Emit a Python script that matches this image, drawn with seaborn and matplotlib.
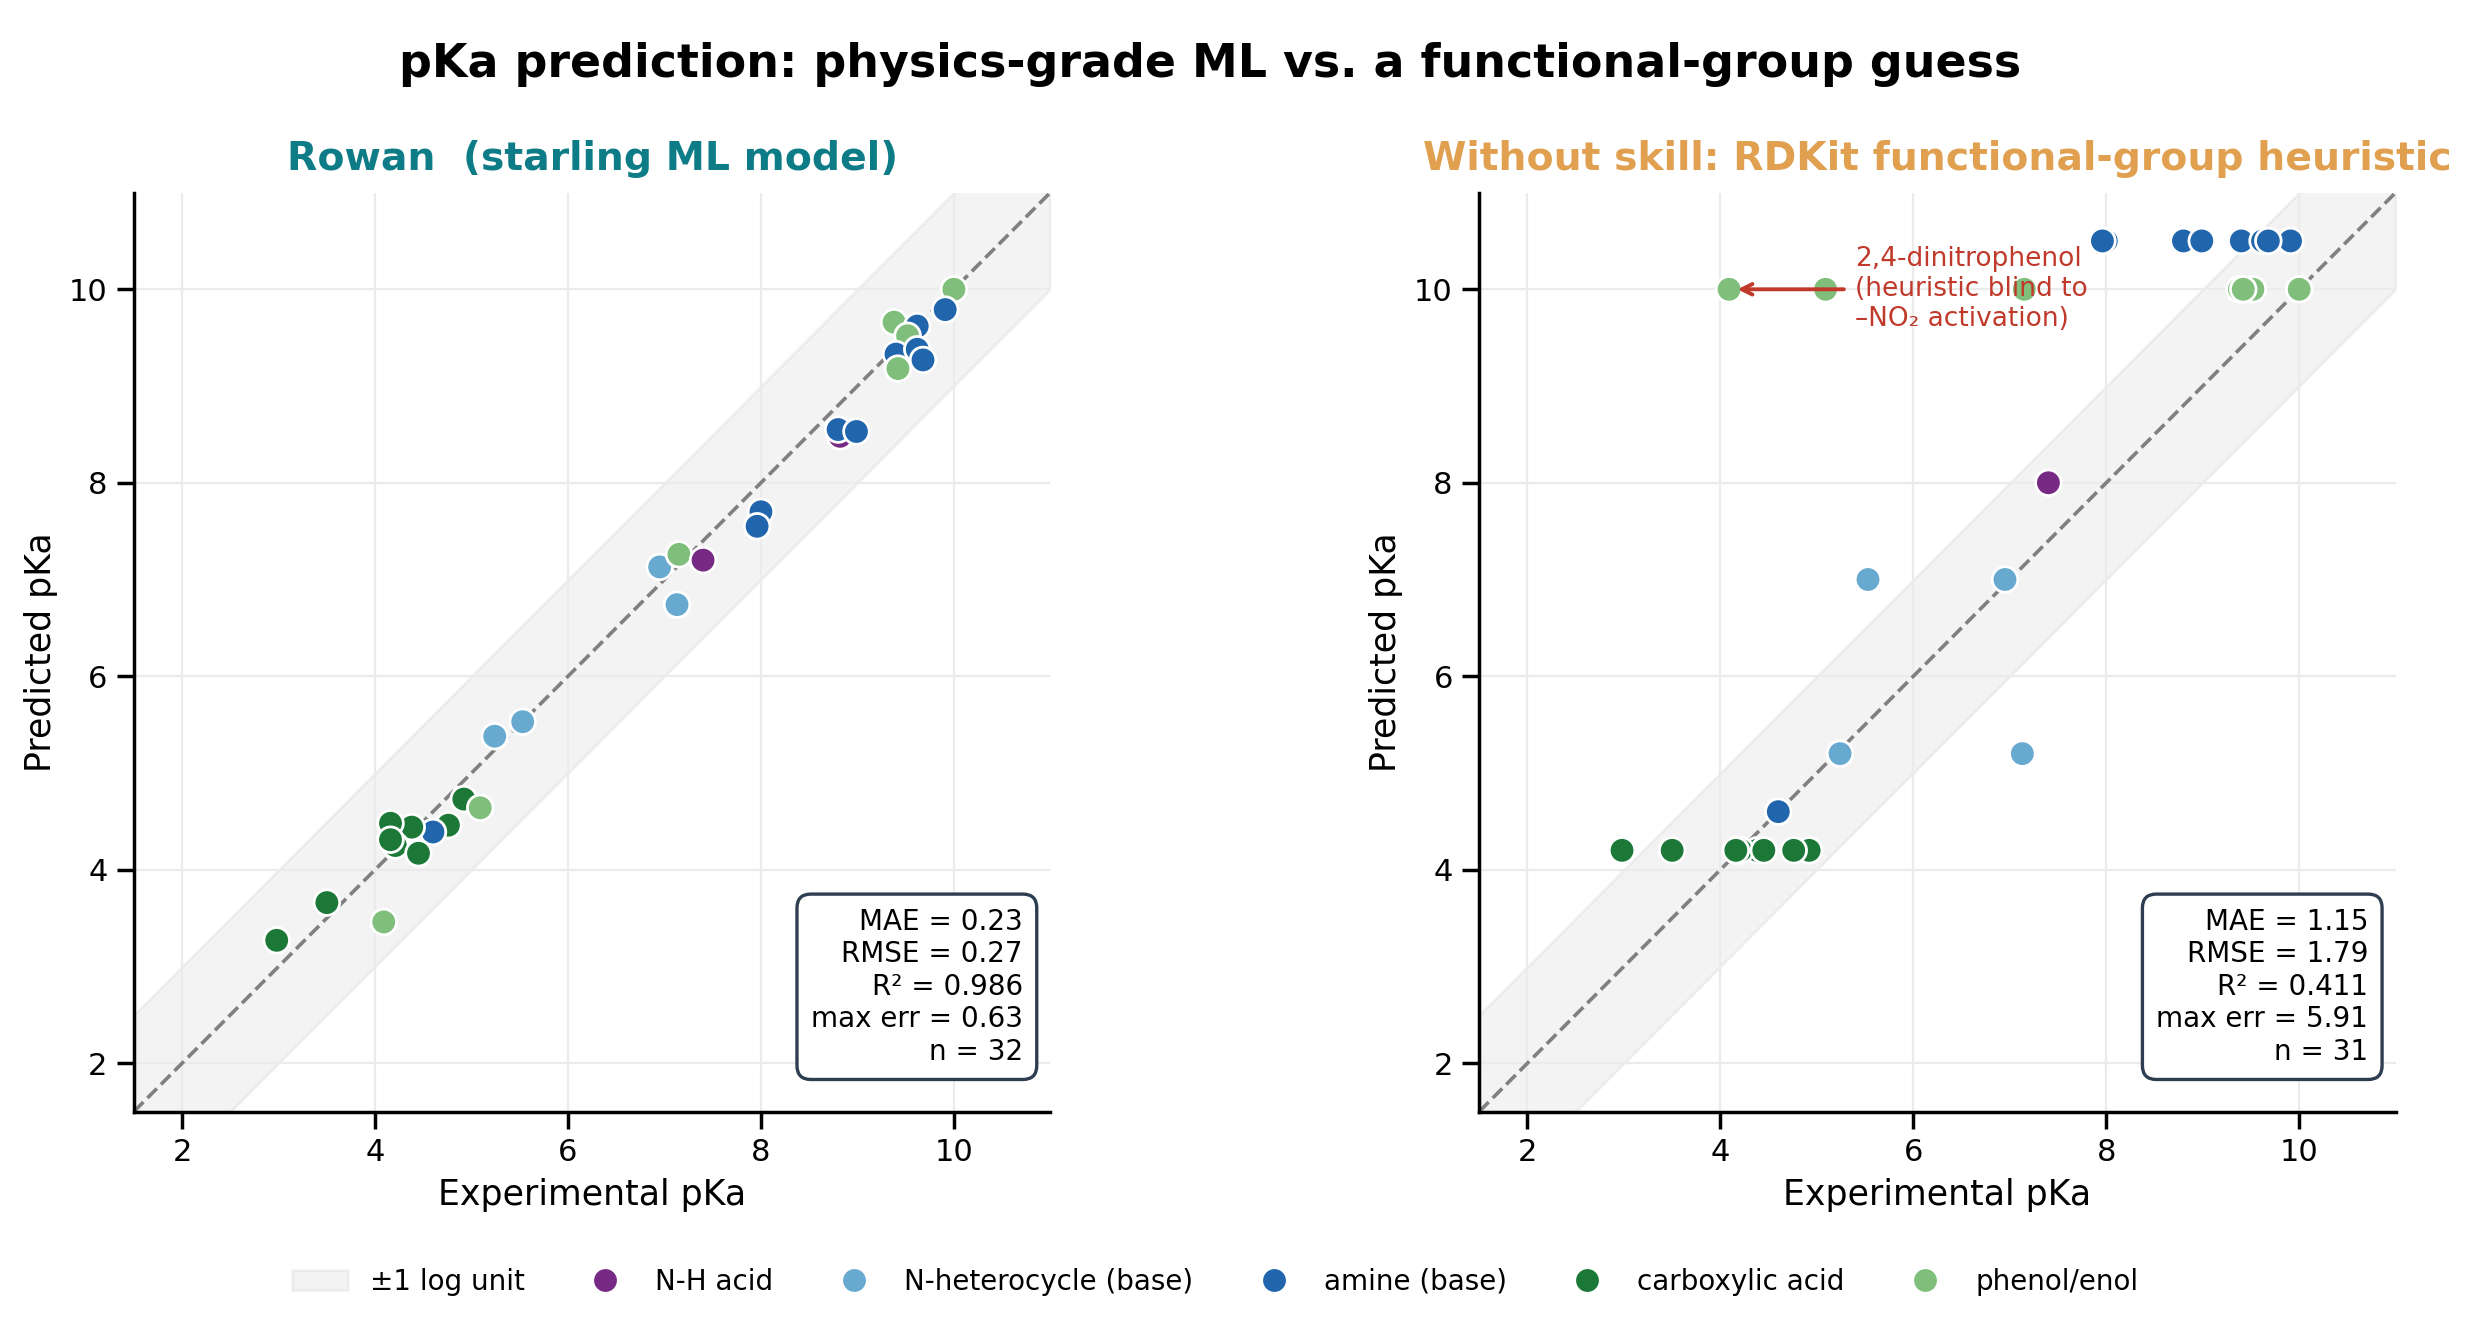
import numpy as np
import pandas as pd
import matplotlib
matplotlib.use("Agg")
import matplotlib.pyplot as plt
import seaborn as sns

# experimental pKa, ML prediction, heuristic prediction (None = no guess), class
exp_pka = [10.00, 9.91, 9.38, 9.62, 9.52, 9.40, 9.62, 9.68, 9.42, 8.82, 8.80, 8.99,
           8.00, 7.96, 6.95, 7.15, 7.40, 7.13, 5.24, 5.53, 4.92, 5.09, 4.76, 4.60,
           4.38, 4.16, 4.21, 4.16, 4.45, 3.50, 4.09, 2.98]
ml_pka = [10.00, 9.79, 9.66, 9.62, 9.52, 9.33, 9.38, 9.27, 9.18, 8.48, 8.55, 8.53,
          7.70, 7.55, 7.13, 7.26, 7.20, 6.74, 5.38, 5.53, 4.73, 4.64, 4.46, 4.39,
          4.44, 4.48, 4.25, 4.31, 4.17, 3.66, 3.46, 3.27]
heur_pka = [10.0, 10.5, 10.0, 10.5, 10.0, 10.5, 10.5, 10.5, 10.0, None, 10.5, 10.5,
            10.5, 10.5, 7.0, 10.0, 8.0, 5.2, 5.2, 7.0, 4.2, 10.0, 4.2, 4.6,
            4.2, 4.2, 4.2, 4.2, 4.2, 4.2, 10.0, 4.2]
classes = ["phenol/enol", "amine (base)", "phenol/enol", "amine (base)", "phenol/enol",
           "amine (base)", "amine (base)", "amine (base)", "phenol/enol", "N-H acid",
           "amine (base)", "amine (base)", "amine (base)", "amine (base)",
           "N-heterocycle (base)", "phenol/enol", "N-H acid", "N-heterocycle (base)",
           "N-heterocycle (base)", "N-heterocycle (base)", "carboxylic acid", "phenol/enol",
           "carboxylic acid", "amine (base)", "carboxylic acid", "carboxylic acid",
           "carboxylic acid", "carboxylic acid", "carboxylic acid", "carboxylic acid",
           "phenol/enol", "carboxylic acid"]

class_order = ["N-H acid", "N-heterocycle (base)", "amine (base)", "carboxylic acid", "phenol/enol"]
class_colors = ["#762a83", "#67a9cf", "#2166ac", "#1b7837", "#7fbf7b"]

stats_ml = ["MAE = 0.23", "RMSE = 0.27", "R² = 0.986", "max err = 0.63", "n = 32"]
stats_heur = ["MAE = 1.15", "RMSE = 1.79", "R² = 0.411", "max err = 5.91", "n = 31"]

df = pd.DataFrame({"exp": exp_pka, "ml": ml_pka,
                   "heur": pd.array(heur_pka, dtype="Float64").astype(float),
                   "cls": classes})

sns.set_theme(style="ticks")
plt.rcParams["font.family"] = ["DejaVu Sans"]
plt.rcParams.update({"text.color": "black", "axes.labelcolor": "black",
                     "xtick.color": "black", "ytick.color": "black"})

fig, axes = plt.subplots(1, 2, figsize=(12.4, 6.64), dpi=200)
fig.subplots_adjust(left=0.054, right=0.966, bottom=0.163, top=0.855, wspace=0.468)

palette = dict(zip(class_order, class_colors))
lims = (1.5, 11.0)
line_x = np.array(lims)

panels = [
    (axes[0], "ml", "Rowan  (starling ML model)", "#0e7c86", stats_ml),
    (axes[1], "heur", "Without skill: RDKit functional-group heuristic", "#e0a050", stats_heur),
]

for ax, col, title, tcolor, stats in panels:
    ax.fill_between(line_x, line_x - 1, line_x + 1, color="grey", alpha=0.09,
                    label="±1 log unit", zorder=0)
    ax.plot(line_x, line_x, ls="--", color="grey", lw=1.3, zorder=1)
    sns.scatterplot(data=df.dropna(subset=[col]), x="exp", y=col, hue="cls",
                    hue_order=class_order, palette=palette, s=85,
                    edgecolor="white", linewidth=1.0, ax=ax, zorder=3)
    ax.set_xlim(lims)
    ax.set_ylim(lims)
    ax.set_xticks([2, 4, 6, 8, 10])
    ax.set_yticks([2, 4, 6, 8, 10])
    ax.tick_params(labelsize=11)
    ax.grid(True, color="#ebebeb", lw=0.8)
    ax.set_axisbelow(True)
    ax.set_xlabel("Experimental pKa", fontsize=12.5)
    ax.set_ylabel("Predicted pKa", fontsize=12.5)
    ax.set_title(title, color=tcolor, fontsize=14.2, fontweight="bold", pad=8)
    ax.text(0.97, 0.05, "\n".join(stats), transform=ax.transAxes, ha="right",
            va="bottom", fontsize=10, zorder=5,
            bbox=dict(boxstyle="round,pad=0.5", fc="white", ec="#2c3e50", lw=1.2))
    for sp in ["left", "bottom"]:
        ax.spines[sp].set_color("black")
    sns.despine(ax=ax)

axes[1].annotate("2,4-dinitrophenol\n(heuristic blind to\n–NO₂ activation)",
                 xy=(4.12, 10.0), xytext=(5.4, 10.0), ha="left", va="center",
                 fontsize=9.5, color="#c0392b", zorder=6,
                 arrowprops=dict(arrowstyle="->", color="#c0392b", lw=1.4))

handles, labels = axes[0].get_legend_handles_labels()
for ax in axes:
    ax.get_legend().remove()
fig.legend(handles, labels, loc="center", bbox_to_anchor=(0.49, 0.035), ncol=6,
           frameon=False, fontsize=10, handlelength=2.0, columnspacing=1.9)

fig.suptitle("pKa prediction: physics-grade ML vs. a functional-group guess",
             fontsize=16.5, fontweight="bold", x=0.488, y=0.968)

fig.savefig("out.png", dpi=200)
